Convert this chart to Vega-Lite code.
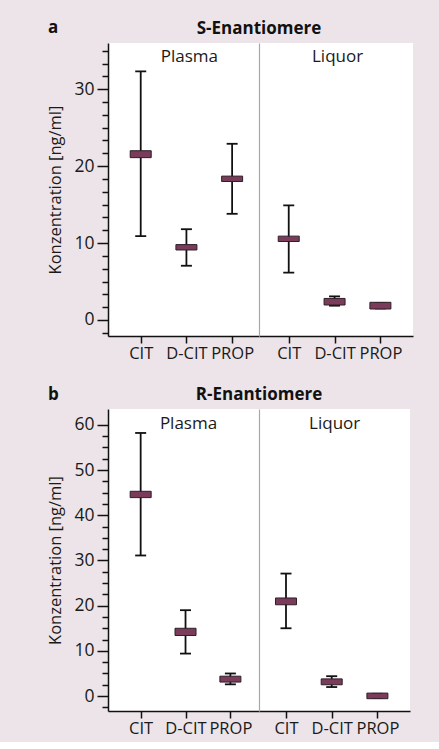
{
  "$schema": "https://vega.github.io/schema/vega-lite/v6.json",
  "background": "#ece4e8",
  "padding": {"left": 47, "top": 18, "right": 30, "bottom": 5},
  "config": {
    "font": "Open Sans",
    "view": {"fill": "white", "stroke": null},
    "title": {"font": "Open Sans", "fontSize": 17, "fontWeight": "bold", "color": "#111", "offset": 5},
    "axis": {"grid": false, "labelFont": "Open Sans", "titleFont": "Open Sans", "labelColor": "#1a1a1a", "titleColor": "#1a1a1a", "domainColor": "#111", "tickColor": "#111", "domainWidth": 1.5, "tickWidth": 1.5}
  },
  "datasets": {
    "a": [
      {"m": "Plasma", "drug": "CIT", "min": 10.9, "max": 32.3, "lo": 21.1, "hi": 22.0},
      {"m": "Plasma", "drug": "D-CIT", "min": 7.05, "max": 11.8, "lo": 9.1, "hi": 9.8},
      {"m": "Plasma", "drug": "PROP", "min": 13.8, "max": 22.9, "lo": 18.0, "hi": 18.7},
      {"m": "Liquor", "drug": "CIT", "min": 6.15, "max": 14.9, "lo": 10.2, "hi": 10.9},
      {"m": "Liquor", "drug": "D-CIT", "min": 1.86, "max": 3.07, "lo": 1.95, "hi": 2.8},
      {"m": "Liquor", "drug": "PROP", "min": 1.5, "max": 2.2, "lo": 1.43, "hi": 2.3}
    ],
    "b": [
      {"m": "Plasma", "drug": "CIT", "min": 31.1, "max": 58.2, "lo": 43.9, "hi": 45.3},
      {"m": "Plasma", "drug": "D-CIT", "min": 9.4, "max": 19.0, "lo": 13.4, "hi": 15.0},
      {"m": "Plasma", "drug": "PROP", "min": 2.6, "max": 5.0, "lo": 3.1, "hi": 4.4},
      {"m": "Liquor", "drug": "CIT", "min": 15.0, "max": 27.1, "lo": 20.2, "hi": 21.7},
      {"m": "Liquor", "drug": "D-CIT", "min": 2.0, "max": 4.4, "lo": 2.5, "hi": 3.8},
      {"m": "Liquor", "drug": "PROP", "min": -0.4, "max": 0.5, "lo": -0.58, "hi": 0.66}
    ]
  },
  "spacing": 24,
  "vconcat": [
    {
      "hconcat": [
        {
          "width": 151, "height": 293,
          "data": {"name": "a"},
          "transform": [{"filter": "datum.m === 'Plasma'"}],
          "title": {"text": "a", "anchor": "start", "frame": "bounds"},
          "encoding": {"x": {"field": "drug", "type": "nominal", "sort": ["CIT", "D-CIT", "PROP"], "title": null,
            "scale": {"type": "point", "padding": 0.652, "align": 0.549},
            "axis": {"labelAngle": 0, "labelFontSize": 16.5, "tickSize": 7, "labelPadding": 2}}},
          "layer": [
            {"mark": {"type": "rule", "strokeWidth": 1.8, "color": "#111"},
             "encoding": {"y": {"field": "min", "type": "quantitative", "title": "Konzentration [ng/ml]",
               "scale": {"domain": [-2.08, 36], "nice": false, "zero": false},
               "axis": {"values": [-1.6667, 0, 1.6667, 3.3333, 5, 6.6667, 8.3333, 10, 11.6667, 13.3333, 15, 16.6667, 18.3333, 20, 21.6667, 23.3333, 25, 26.6667, 28.3333, 30, 31.6667, 33.3333, 35],
                 "tickCount": 200,
                 "tickSize": {"condition": {"test": "abs(datum.value % 10) < 0.01", "value": 11}, "value": 6},
                 "labelExpr": "abs(datum.value % 10) < 0.01 ? format(datum.value, 'd') : ''",
                 "labelOverlap": false, "labelFontSize": 17.5, "labelPadding": 3, "titleFontSize": 16.5, "titleFontWeight": "normal", "titlePadding": 10}},
               "y2": {"field": "max"}}},
            {"mark": {"type": "tick", "size": 11, "thickness": 1.8, "color": "#111", "opacity": 1},
             "encoding": {"y": {"field": "min", "type": "quantitative", "title": "Konzentration [ng/ml]"}}},
            {"mark": {"type": "tick", "size": 11, "thickness": 1.8, "color": "#111", "opacity": 1},
             "encoding": {"y": {"field": "max", "type": "quantitative", "title": "Konzentration [ng/ml]"}}},
            {"mark": {"type": "bar", "width": 21, "fill": "#7b3c5c", "stroke": "#2e1f26", "strokeWidth": 1},
             "encoding": {"y": {"field": "lo", "type": "quantitative", "title": "Konzentration [ng/ml]"}, "y2": {"field": "hi"}}},
            {"transform": [{"filter": "datum.drug === 'D-CIT'"}],
             "mark": {"type": "text", "fontSize": 17, "color": "#1a1a1a", "baseline": "alphabetic", "dx": 3},
             "encoding": {"y": {"datum": 33.5, "type": "quantitative", "title": "Konzentration [ng/ml]"}, "text": {"field": "m"}}}
          ]
        },
        {
          "width": 154, "height": 293,
          "data": {"name": "a"},
          "transform": [{"filter": "datum.m === 'Liquor'"}],
          "title": {"text": "S-Enantiomere", "anchor": "start", "align": "center", "frame": "group"},
          "encoding": {"x": {"field": "drug", "type": "nominal", "sort": ["CIT", "D-CIT", "PROP"], "title": null,
            "scale": {"type": "point", "padding": 0.68, "align": 0.477},
            "axis": {"labelAngle": 0, "labelFontSize": 16.5, "tickSize": 7, "labelPadding": 2}}},
          "layer": [
            {"mark": {"type": "rule", "strokeWidth": 1.8, "color": "#111"},
             "encoding": {"y": {"field": "min", "type": "quantitative", "title": null,
               "scale": {"domain": [-2.08, 36], "nice": false, "zero": false},
               "axis": {"ticks": false, "labels": false, "domainColor": "#a8a8a8", "domainWidth": 1.2, "title": null}},
               "y2": {"field": "max"}}},
            {"mark": {"type": "tick", "size": 11, "thickness": 1.8, "color": "#111", "opacity": 1},
             "encoding": {"y": {"field": "min", "type": "quantitative", "title": null}}},
            {"mark": {"type": "tick", "size": 11, "thickness": 1.8, "color": "#111", "opacity": 1},
             "encoding": {"y": {"field": "max", "type": "quantitative", "title": null}}},
            {"mark": {"type": "bar", "width": 21, "fill": "#7b3c5c", "stroke": "#2e1f26", "strokeWidth": 1},
             "encoding": {"y": {"field": "lo", "type": "quantitative", "title": null}, "y2": {"field": "hi"}}},
            {"transform": [{"filter": "datum.drug === 'D-CIT'"}],
             "mark": {"type": "text", "fontSize": 17, "color": "#1a1a1a", "baseline": "alphabetic", "dx": 3},
             "encoding": {"y": {"datum": 33.5, "type": "quantitative", "title": null}, "text": {"field": "m"}}}
          ]
        }
      ],
      "spacing": 0,
      "bounds": "flush",
      "resolve": {"scale": {"x": "independent", "y": "independent"}}
    },
    {
      "hconcat": [
        {
          "width": 151, "height": 302,
          "data": {"name": "b"},
          "transform": [{"filter": "datum.m === 'Plasma'"}],
          "title": {"text": "b", "anchor": "start", "frame": "bounds"},
          "encoding": {"x": {"field": "drug", "type": "nominal", "sort": ["CIT", "D-CIT", "PROP"], "title": null,
            "scale": {"type": "point", "padding": 0.683, "align": 0.533},
            "axis": {"labelAngle": 0, "labelFontSize": 16.5, "tickSize": 7, "labelPadding": 2}}},
          "layer": [
            {"mark": {"type": "rule", "strokeWidth": 1.8, "color": "#111"},
             "encoding": {"y": {"field": "min", "type": "quantitative", "title": "Konzentration [ng/ml]",
               "scale": {"domain": [-3.3, 63.5], "nice": false, "zero": false},
               "axis": {"values": [-2.5, 0, 2.5, 5, 7.5, 10, 12.5, 15, 17.5, 20, 22.5, 25, 27.5, 30, 32.5, 35, 37.5, 40, 42.5, 45, 47.5, 50, 52.5, 55, 57.5, 60],
                 "tickCount": 200,
                 "tickSize": {"condition": {"test": "abs(datum.value % 10) < 0.01", "value": 11}, "value": 6},
                 "labelExpr": "abs(datum.value % 10) < 0.01 ? format(datum.value, 'd') : ''",
                 "labelOverlap": false, "labelFontSize": 17.5, "labelPadding": 3, "titleFontSize": 16.5, "titleFontWeight": "normal", "titlePadding": 10}},
               "y2": {"field": "max"}}},
            {"mark": {"type": "tick", "size": 11, "thickness": 1.8, "color": "#111", "opacity": 1},
             "encoding": {"y": {"field": "min", "type": "quantitative", "title": "Konzentration [ng/ml]"}}},
            {"mark": {"type": "tick", "size": 11, "thickness": 1.8, "color": "#111", "opacity": 1},
             "encoding": {"y": {"field": "max", "type": "quantitative", "title": "Konzentration [ng/ml]"}}},
            {"mark": {"type": "bar", "width": 21, "fill": "#7b3c5c", "stroke": "#2e1f26", "strokeWidth": 1},
             "encoding": {"y": {"field": "lo", "type": "quantitative", "title": "Konzentration [ng/ml]"}, "y2": {"field": "hi"}}},
            {"transform": [{"filter": "datum.drug === 'D-CIT'"}],
             "mark": {"type": "text", "fontSize": 17, "color": "#1a1a1a", "baseline": "alphabetic", "dx": 3},
             "encoding": {"y": {"datum": 59.1, "type": "quantitative", "title": "Konzentration [ng/ml]"}, "text": {"field": "m"}}}
          ]
        },
        {
          "width": 151, "height": 302,
          "data": {"name": "b"},
          "transform": [{"filter": "datum.m === 'Liquor'"}],
          "title": {"text": "R-Enantiomere", "anchor": "start", "align": "center", "frame": "group"},
          "encoding": {"x": {"field": "drug", "type": "nominal", "sort": ["CIT", "D-CIT", "PROP"], "title": null,
            "scale": {"type": "point", "padding": 0.652, "align": 0.453},
            "axis": {"labelAngle": 0, "labelFontSize": 16.5, "tickSize": 7, "labelPadding": 2}}},
          "layer": [
            {"mark": {"type": "rule", "strokeWidth": 1.8, "color": "#111"},
             "encoding": {"y": {"field": "min", "type": "quantitative", "title": null,
               "scale": {"domain": [-3.3, 63.5], "nice": false, "zero": false},
               "axis": {"ticks": false, "labels": false, "domainColor": "#a8a8a8", "domainWidth": 1.2, "title": null}},
               "y2": {"field": "max"}}},
            {"mark": {"type": "tick", "size": 11, "thickness": 1.8, "color": "#111", "opacity": 1},
             "encoding": {"y": {"field": "min", "type": "quantitative", "title": null}}},
            {"mark": {"type": "tick", "size": 11, "thickness": 1.8, "color": "#111", "opacity": 1},
             "encoding": {"y": {"field": "max", "type": "quantitative", "title": null}}},
            {"mark": {"type": "bar", "width": 21, "fill": "#7b3c5c", "stroke": "#2e1f26", "strokeWidth": 1},
             "encoding": {"y": {"field": "lo", "type": "quantitative", "title": null}, "y2": {"field": "hi"}}},
            {"transform": [{"filter": "datum.drug === 'D-CIT'"}],
             "mark": {"type": "text", "fontSize": 17, "color": "#1a1a1a", "baseline": "alphabetic", "dx": 3},
             "encoding": {"y": {"datum": 59.1, "type": "quantitative", "title": null}, "text": {"field": "m"}}}
          ]
        }
      ],
      "spacing": 0,
      "bounds": "flush",
      "resolve": {"scale": {"x": "independent", "y": "independent"}}
    }
  ]
}
